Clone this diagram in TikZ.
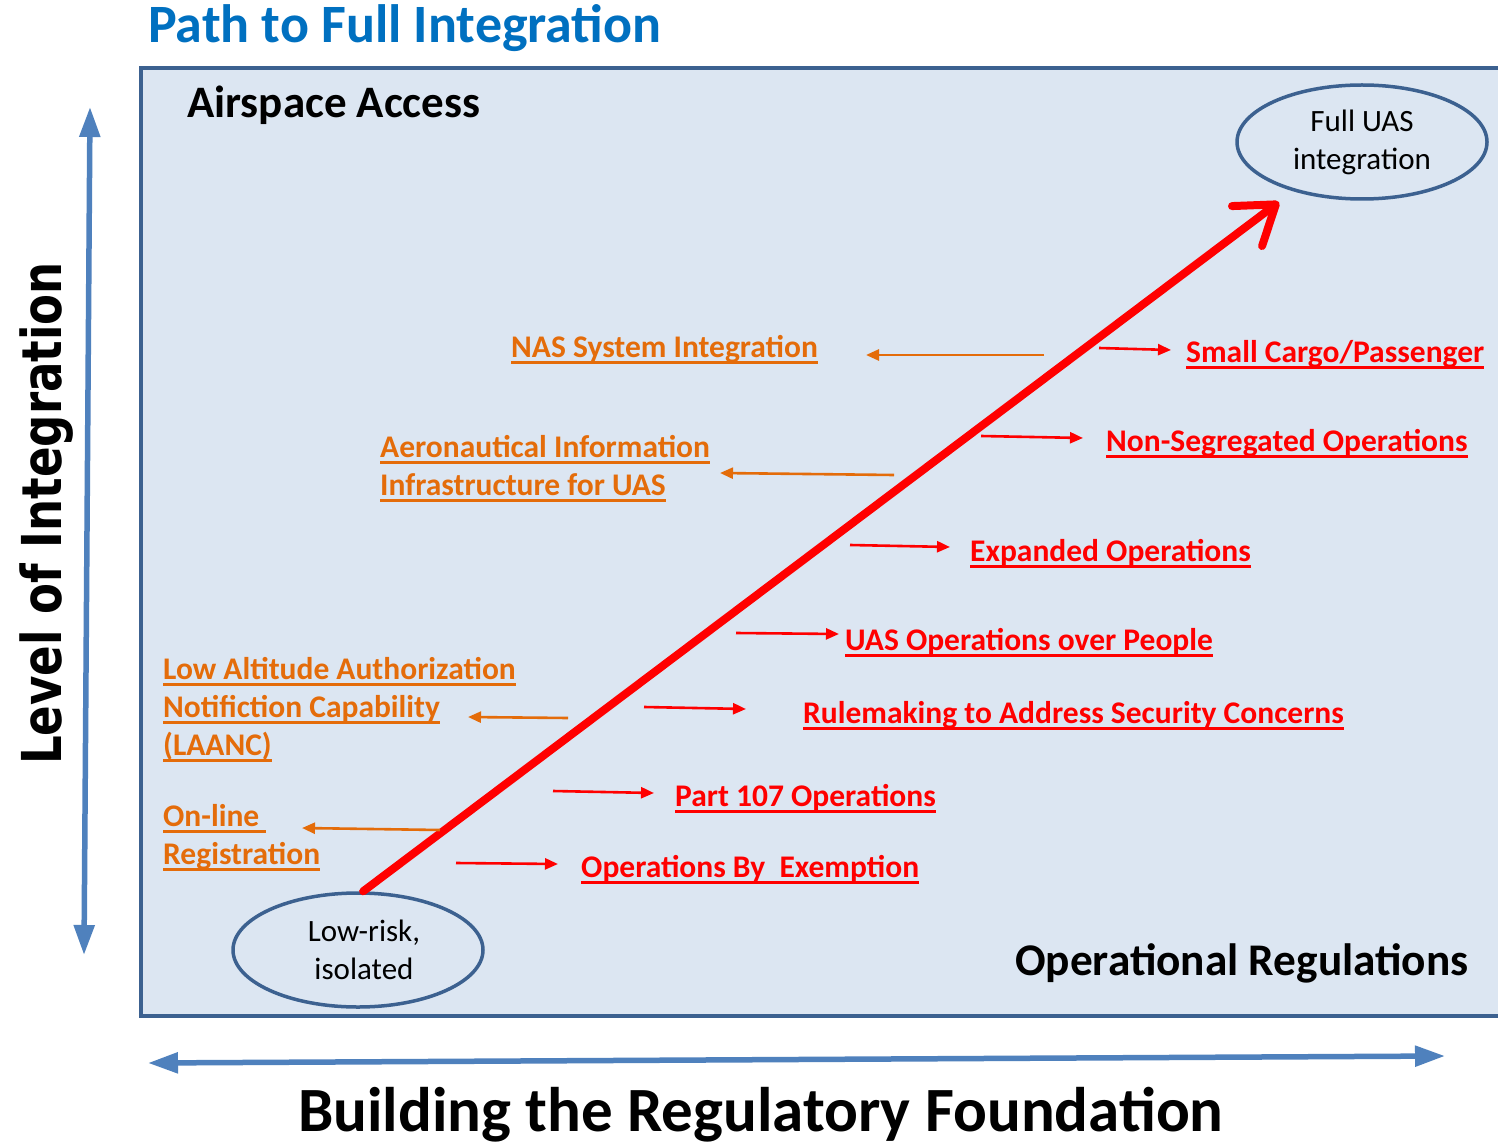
\documentclass[tikz,border=0pt]{standalone}
\usepackage{fontspec}
\setmainfont{Carlito}
\newfontfamily\axisfont{DejaVu Sans}
\usetikzlibrary{arrows.meta,shapes.geometric}

\definecolor{panelfill}{HTML}{DCE6F2}
\definecolor{panelline}{HTML}{3C6190}
\definecolor{axisblue}{HTML}{4F81BD}
\definecolor{titleblue}{HTML}{0070C0}
\definecolor{uasorange}{HTML}{E46C0A}
\definecolor{uasred}{HTML}{FF0000}

% underlined label text with a thick rule just below the baseline
\newcommand\ulin[1]{\setbox0=\hbox{#1}\rlap{\rule[-6.6pt]{\wd0}{2.4pt}}\box0}
\newcommand\lblfont{\bfseries\fontsize{31.5}{36}\selectfont}

\begin{document}
\begin{tikzpicture}[x=1pt,y=-1pt,
  redlbl/.style={text=uasred, font=\lblfont, anchor=base west, inner sep=0pt},
  orglbl/.style={text=uasorange, font=\lblfont, anchor=base west, inner sep=0pt},
  redarr/.style={draw=uasred, line width=2.6pt, -{Triangle[length=13pt,width=11pt]}},
  orgarr/.style={draw=uasorange, line width=2.6pt, -{Triangle[length=13pt,width=11pt]}},
  axis/.style={draw=axisblue, line width=5.5pt,
    {Triangle[length=30pt,width=20pt]}-{Triangle[length=30pt,width=20pt]}},
  goal/.style={ellipse, draw=panelline, line width=3.5pt, inner sep=0pt,
    minimum width=250pt, minimum height=114pt, align=center,
    font=\fontsize{31}{38}\selectfont},
  heading/.style={font=\bfseries, anchor=base west, inner sep=0pt}]

\useasboundingbox (0,0) rectangle (1498,1147);
\clip (0,0) rectangle (1498,1147);
\fill[white] (0,0) rectangle (1498,1147);

% main panel
\draw[fill=panelfill, draw=panelline, line width=3.5pt] (141,68) rectangle (1530,1016);

% titles
\node[heading, text=titleblue, font=\bfseries\fontsize{54}{60}\selectfont] (title) at (148,43) {Path to Full Integration};
\node[heading, font=\bfseries\fontsize{45}{50}\selectfont] (access) at (187,118) {Airspace Access};
\node[heading, font=\bfseries\fontsize{45.3}{52}\selectfont] (opreg) at (1015,975) {Operational Regulations};
\node[heading, font=\bfseries\fontsize{63}{70}\selectfont] (found) at (298,1131) {Building the Regulatory Foundation};
\node[heading, rotate=90] (level) at (61,765)
  {\axisfont\bfseries\fontsize{55}{60}\selectfont\scalebox{0.82}[1]{Level of Integration}};

% axes
\coordinate (vtop) at (90,107);
\coordinate (vbot) at (84,955);
\coordinate (hleft) at (148,1063);
\coordinate (hright) at (1445,1056);
\draw[axis] (vbot) -- (vtop);
\draw[axis] (hleft) -- (hright);

% start and goal
\node[goal] (low) at (358,950) {\hspace*{12pt}Low-risk,\\\hspace*{12pt}isolated};
\node[goal] (full) at (1362,142) {Full UAS\\integration};

% path from low-risk operations to full integration
\coordinate (tip) at (1279,202);
\draw[uasred, line width=8pt, line cap=round,
  -{Straight Barb[length=36pt,width=50pt,round]}] (low.85) -- (tip);

% operational regulations (right side)
\node[redlbl] (cargo) at (1186,362) {\ulin{Small Cargo/Passenger}};
\node[redlbl] (nonseg) at (1106,451) {\ulin{Non-Segregated Operations}};
\node[redlbl] (expand) at (970,561) {\ulin{Expanded Operations}};
\node[redlbl] (people) at (845,650) {\ulin{UAS Operations over People}};
\node[redlbl] (secur) at (803,723) {\ulin{Rulemaking to Address Security Concerns}};
\node[redlbl] (p107) at (675,806) {\ulin{Part 107 Operations}};
\node[redlbl] (exempt) at (581,877) {\ulin{Operations By\ \ Exemption}};

\coordinate (r1a) at (1099,348); \coordinate (r1b) at (1171,350);
\coordinate (r2a) at (981,436);  \coordinate (r2b) at (1083,438);
\coordinate (r3a) at (850,545);  \coordinate (r3b) at (950,547);
\coordinate (r4a) at (736,633);  \coordinate (r4b) at (839,634);
\coordinate (r5a) at (644,707);  \coordinate (r5b) at (746,709);
\coordinate (r6a) at (553,791);  \coordinate (r6b) at (654,793);
\coordinate (r7a) at (456,863);  \coordinate (r7b) at (558,864);
\draw[redarr] (r1a) -- (r1b);
\draw[redarr] (r2a) -- (r2b);
\draw[redarr] (r3a) -- (r3b);
\draw[redarr] (r4a) -- (r4b);
\draw[redarr] (r5a) -- (r5b);
\draw[redarr] (r6a) -- (r6b);
\draw[redarr] (r7a) -- (r7b);

% airspace access (left side)
\node[orglbl] (nas) at (511,357) {\ulin{NAS System Integration}};
\node[orglbl] (aero1) at (380,457) {\ulin{Aeronautical Information}};
\node[orglbl] (aero2) at (380,495) {\ulin{Infrastructure for UAS}};
\node[orglbl] (laanc1) at (163,679) {\ulin{Low Altitude Authorization}};
\node[orglbl] (laanc2) at (163,717) {\ulin{Notifiction Capability}};
\node[orglbl] (laanc3) at (163,755) {\ulin{(LAANC)}};
\node[orglbl] (reg1) at (163,826) {\ulin{On-line\ }};
\node[orglbl] (reg2) at (163,864) {\ulin{Registration}};

\coordinate (o1a) at (1044,355); \coordinate (o1b) at (866,355);
\coordinate (o2a) at (894,475);  \coordinate (o2b) at (720,473);
\coordinate (o3a) at (568,718);  \coordinate (o3b) at (468,717);
\coordinate (o4a) at (440,830);  \coordinate (o4b) at (302,828);
\draw[orgarr] (o1a) -- (o1b);
\draw[orgarr] (o2a) -- (o2b);
\draw[orgarr] (o3a) -- (o3b);
\draw[orgarr] (o4a) -- (o4b);
\end{tikzpicture}
\end{document}
